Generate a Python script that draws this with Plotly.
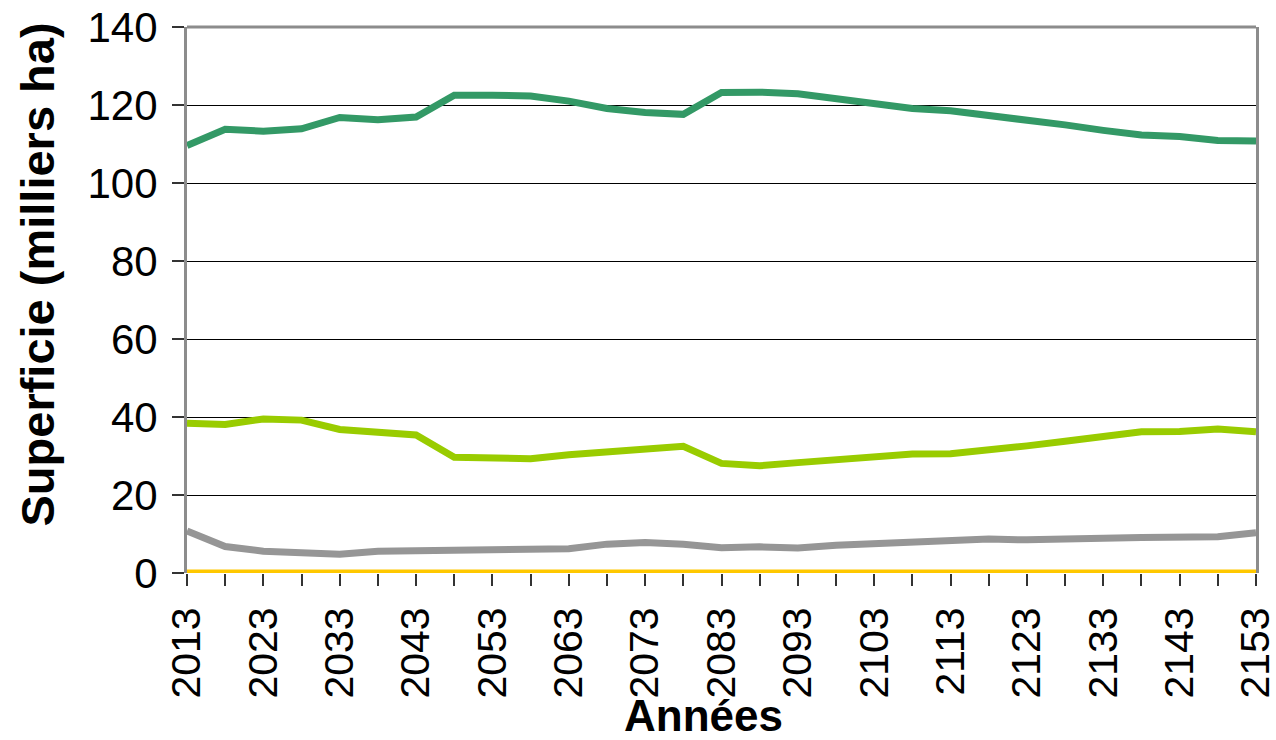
import plotly.graph_objects as go

years = list(range(2013, 2154, 5))

dark_green = [109.6, 113.8, 113.3, 113.9, 116.8, 116.2, 116.9, 122.5, 122.5, 122.3,
              121.0, 119.1, 118.1, 117.6, 123.2, 123.3, 122.9, 121.5, 120.3, 119.1,
              118.5, 117.4, 116.1, 114.9, 113.5, 112.3, 111.9, 110.9, 110.8]

light_green = [38.4, 38.1, 39.5, 39.2, 36.8, 36.3, 35.4, 29.7, 29.7, 29.3,
               30.3, 31.0, 31.9, 32.5, 28.1, 27.5, 28.3, 29.0, 29.8, 30.5,
               30.6, 31.4, 32.6, 33.8, 34.9, 36.2, 36.3, 36.9, 36.2]

gray = [10.8, 6.8, 5.6, 5.4, 4.8, 5.6, 5.7, 5.6, 5.6, 5.9,
        6.2, 7.4, 7.8, 7.4, 6.5, 6.7, 6.4, 7.1, 7.5, 7.9,
        8.5, 8.7, 8.5, 8.5, 8.9, 9.1, 9.2, 9.3, 10.3]

yellow = [0.0] * len(years)

x_tick_vals = years
x_tick_text = [str(y) if (y - 2013) % 10 == 0 else "" for y in years]
y_tick_vals = [0, 20, 40, 60, 80, 100, 120, 140]

x_title = "Années"
y_title = "Superficie (milliers ha)"

font_family = "Liberation Sans, Arial, sans-serif"

fig = go.Figure()
for vals, color in [(yellow, "#FFC800"), (gray, "#969696"),
                    (light_green, "#99CC00"), (dark_green, "#339966")]:
    fig.add_trace(go.Scatter(x=years, y=vals, mode="lines",
                             line=dict(color=color, width=7),
                             showlegend=False, hoverinfo="skip"))

fig.update_layout(
    width=1276, height=740,
    margin=dict(l=187, r=20, t=27, b=167),
    paper_bgcolor="white", plot_bgcolor="white",
    font=dict(family=font_family, color="black"),
    xaxis=dict(
        range=[2013, 2153], automargin=False,
        tickmode="array", tickvals=x_tick_vals, ticktext=x_tick_text,
        tickangle=-90, tickfont=dict(size=41, family=font_family),
        ticks="outside", ticklen=12, tickcolor="#333333", tickwidth=1.5,
        ticklabelstandoff=5, ticklabeloverflow="allow",
        showgrid=False, zeroline=False, showline=False,
    ),
    yaxis=dict(
        range=[0, 140], automargin=False,
        tickmode="array", tickvals=y_tick_vals,
        tickfont=dict(size=42, family=font_family),
        ticks="outside", ticklen=12, tickcolor="#333333", tickwidth=1.5,
        ticklabelstandoff=6, ticklabeloverflow="allow",
        showgrid=True, gridcolor="black", gridwidth=1,
        zeroline=False,
        showline=True, mirror=True, linecolor="#8c8c8c", linewidth=3,
    ),
    shapes=[dict(type="line", xref="paper", yref="paper", x0=0, x1=1, y0=1, y1=1,
                 line=dict(color="#8c8c8c", width=3))],
    annotations=[
        dict(text="<b>" + x_title + "</b>", xref="paper", yref="paper",
             x=0.483, y=0, yshift=-116, xanchor="center", yanchor="top",
             showarrow=False, font=dict(size=44, family=font_family)),
        dict(text="<b>" + y_title + "</b>", xref="paper", yref="paper",
             x=0, xshift=-149, y=0.5467, xanchor="center", yanchor="middle",
             textangle=-90, showarrow=False, font=dict(size=47, family=font_family)),
    ],
)

fig.write_html("out.html", config={"displayModeBar": False},
               post_script="document.body.style.margin='0px';document.body.style.overflow='hidden';")
